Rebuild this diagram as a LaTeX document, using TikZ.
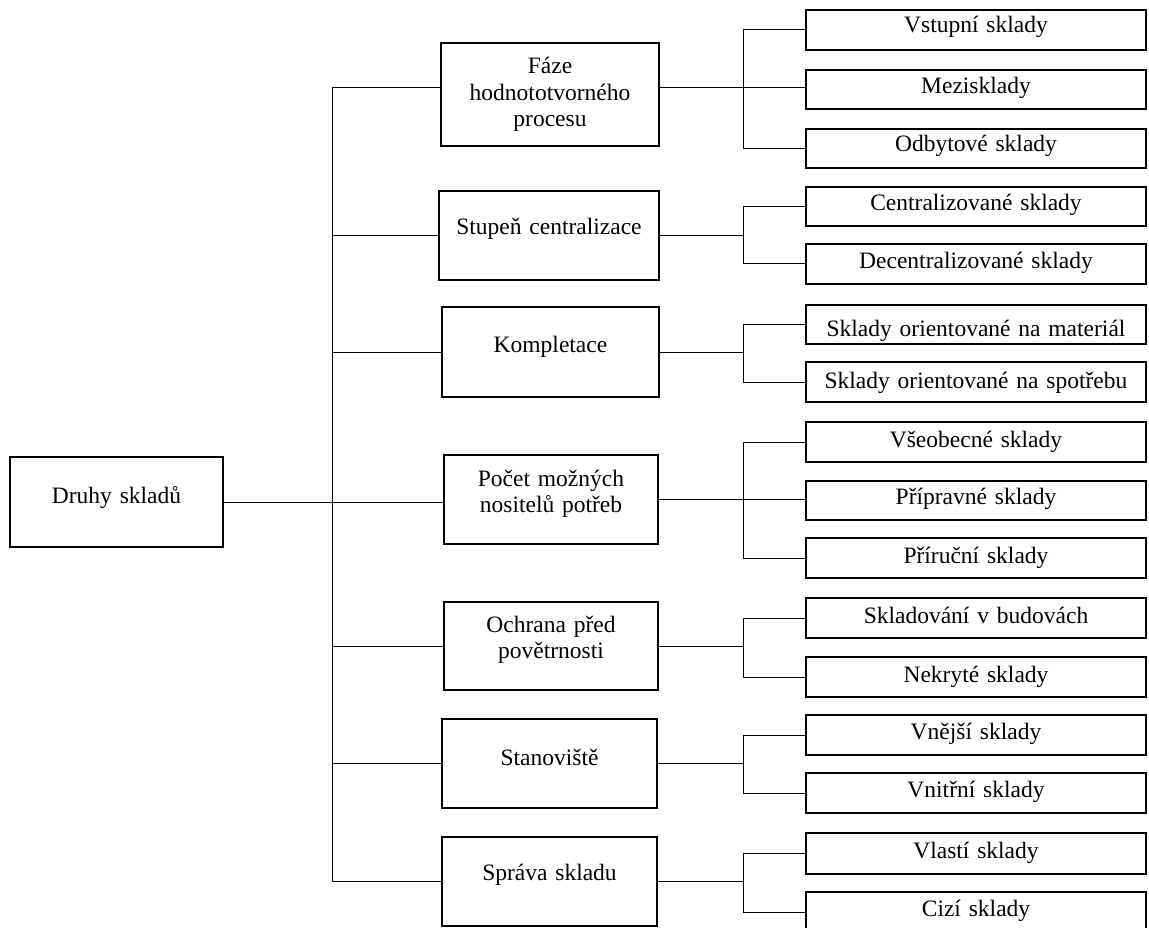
\documentclass[tikz,border=0pt]{standalone}
\usepackage{fontspec}
\setmainfont{Liberation Serif}
\usetikzlibrary{calc}

\tikzset{
  box/.style={draw, line width=2pt, rectangle, inner sep=0pt, outer sep=0pt,
    align=center, anchor=north west, font=\fontsize{23.5}{26.5}\selectfont},
  leafbox/.style={box, text width=340pt},
  conn/.style={line width=1pt}
}

\begin{document}
\begin{tikzpicture}[x=1pt, y=-1pt]
\useasboundingbox (0,0) rectangle (1149,928);

% root
\node[box, text width=213pt, text height=46pt, text depth=44pt] (druhy) at (10,457) {Druhy skladů};

% criteria
\node[box, text width=218pt, text height=31pt, text depth=72pt] (faze) at (441,43) {Fáze\\hodnototvorného\\procesu};
\node[box, text width=220pt, text height=44pt, text depth=45pt] (stupen) at (439,191) {Stupeň centralizace};
\node[box, text width=217pt, text height=45pt, text depth=45pt] (kompl) at (442,307) {Kompletace};
\node[box, text width=214pt, text height=31pt, text depth=58pt] (pocet) at (444,455) {Počet možných\\nositelů potřeb};
\node[box, text width=214pt, text height=30pt, text depth=58pt] (ochrana) at (444,602) {Ochrana před\\povětrnosti};
\node[box, text width=215pt, text height=46pt, text depth=43pt] (stanov) at (442,719) {Stanoviště};
\node[box, text width=215pt, text height=43pt, text depth=46pt] (sprava) at (442,837) {Správa skladu};

% kinds of warehouses
\node[leafbox, text height=23pt, text depth=17pt] (vstup) at (806,10) {Vstupní sklady};
\node[leafbox, text height=24pt, text depth=15pt] (mezi) at (806,70) {Mezisklady};
\node[leafbox, text height=23pt, text depth=16pt] (odbyt) at (806,129) {Odbytové sklady};
\node[leafbox, text height=24pt, text depth=15pt] (central) at (806,187) {Centralizované sklady};
\node[leafbox, text height=25pt, text depth=15pt] (decentral) at (806,244) {Decentralizované sklady};
\node[leafbox, text height=31pt, text depth=8pt] (material) at (806,305) {Sklady orientované na materiál};
\node[leafbox, text height=26pt, text depth=14pt] (spotreba) at (806,362) {Sklady orientované na spotřebu};
\node[leafbox, text height=25pt, text depth=15pt] (vseob) at (806,422) {Všeobecné sklady};
\node[leafbox, text height=23pt, text depth=16pt] (priprav) at (806,481) {Přípravné sklady};
\node[leafbox, text height=25pt, text depth=15pt] (prirucni) at (806,538) {Příruční sklady};
\node[leafbox, text height=25pt, text depth=15pt] (budovy) at (806,598) {Skladování v budovách};
\node[leafbox, text height=25pt, text depth=15pt] (nekryte) at (806,657) {Nekryté sklady};
\node[leafbox, text height=24pt, text depth=16pt] (vnejsi) at (806,715) {Vnější sklady};
\node[leafbox, text height=24pt, text depth=16pt] (vnitrni) at (806,773) {Vnitřní sklady};
\node[leafbox, text height=25pt, text depth=16pt] (vlasti) at (806,833) {Vlastí sklady};
\node[leafbox, text height=24pt, text depth=16pt] (cizi) at (806,892) {Cizí sklady};

% x positions of the two vertical bus lines
\coordinate (tk) at (332,0);
\coordinate (cx) at (743,0);
% the first criterion box is joined above its middle
\coordinate (fl) at ($(faze.west)+(0,-6.5)$);
\coordinate (fr) at ($(faze.east)+(0,-6.5)$);

% root to criteria
\draw[conn] (druhy.east) -- (druhy.east -| pocet.west);
\draw[conn] (fl -| tk) -- (sprava.west -| tk);
\draw[conn] (fl -| tk) -- (fl);
\draw[conn] (stupen.west -| tk) -- (stupen.west);
\draw[conn] (kompl.west -| tk) -- (kompl.west);
\draw[conn] (ochrana.west -| tk) -- (ochrana.west);
\draw[conn] (stanov.west -| tk) -- (stanov.west);
\draw[conn] (sprava.west -| tk) -- (sprava.west);

% criteria to kinds
\draw[conn] (fr) -- (fr -| mezi.west);
\draw[conn] (vstup.west) -- (vstup.west -| cx) -- (odbyt.west -| cx) -- (odbyt.west);

\draw[conn] (stupen.east) -- (stupen.east -| cx);
\draw[conn] (central.west) -- (central.west -| cx) -- (decentral.west -| cx) -- (decentral.west);

\draw[conn] (kompl.east) -- (kompl.east -| cx);
\draw[conn] (material.west) -- (material.west -| cx) -- (spotreba.west -| cx) -- (spotreba.west);

\draw[conn] (pocet.east) -- (pocet.east -| priprav.west);
\draw[conn] (vseob.west) -- (vseob.west -| cx) -- (prirucni.west -| cx) -- (prirucni.west);

\draw[conn] (ochrana.east) -- (ochrana.east -| cx);
\draw[conn] (budovy.west) -- (budovy.west -| cx) -- (nekryte.west -| cx) -- (nekryte.west);

\draw[conn] (stanov.east) -- (stanov.east -| cx);
\draw[conn] (vnejsi.west) -- (vnejsi.west -| cx) -- (vnitrni.west -| cx) -- (vnitrni.west);

\draw[conn] (sprava.east) -- (sprava.east -| cx);
\draw[conn] (vlasti.west) -- (vlasti.west -| cx) -- (cizi.west -| cx) -- (cizi.west);
\end{tikzpicture}
\end{document}
